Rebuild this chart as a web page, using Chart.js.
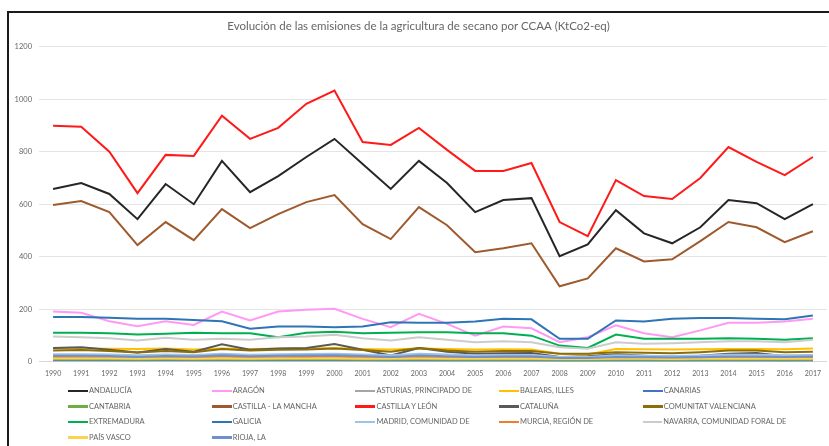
<!DOCTYPE html>
<html lang="es">
<head>
<meta charset="utf-8">
<title>Emisiones de la agricultura de secano por CCAA</title>
<script src="https://cdn.jsdelivr.net/npm/chart.js@4.4.1/dist/chart.umd.min.js"></script>
<style>
  html, body { margin: 0; padding: 0; background: #fff; }
  body { width: 829px; height: 446px; position: relative; overflow: hidden; font-family: Lato, "Open Sans", sans-serif; }
  .frame { position: absolute; left: 7px; top: 11px; right: -10px; bottom: -10px; border-left: 2px solid #1a1a1a; border-top: 2px solid #1a1a1a; }
  .chart-box { position: absolute; left: 0; top: 0; width: 829px; height: 389px; }
  #legend { position: absolute; left: 68px; top: 383px; display: grid; grid-template-columns: repeat(5, 143.7px); grid-auto-rows: 15.6px; }
  .item { display: flex; align-items: center; font-size: 7.5px; color: #666; white-space: nowrap; }
  .item i { display: inline-block; width: 20px; height: 2.5px; margin-right: 1px; }
</style>
</head>
<body>
<div class="frame"></div>
<div class="chart-box"><canvas id="emisionesChart"></canvas></div>
<div id="legend"></div>

<script>
const years = ['1990', '1991', '1992', '1993', '1994', '1995', '1996', '1997', '1998', '1999',
  '2000', '2001', '2002', '2003', '2004', '2005', '2006', '2007', '2008', '2009',
  '2010', '2011', '2012', '2013', '2014', '2015', '2016', '2017'];

// KtCO2-eq por comunidad autónoma
const andalucia = [658, 681, 639, 543, 677, 600, 765, 646, 707, 780, 849, 753, 658, 765, 681, 570, 616, 623, 402, 447, 577, 489, 451, 512, 616, 604, 543, 600];
const aragon = [191, 186, 154, 135, 154, 140, 191, 157, 191, 198, 201, 163, 131, 182, 144, 99, 134, 127, 74, 93, 138, 108, 93, 119, 148, 148, 153, 163];
const asturias = [6, 6, 5, 5, 6, 5, 6, 5, 6, 6, 6, 5, 5, 6, 5, 5, 5, 5, 4, 4, 5, 5, 4, 5, 5, 5, 4, 5];
const baleares = [50, 50, 49, 48, 50, 46, 50, 48, 49, 50, 52, 48, 46, 50, 48, 46, 47, 46, 30, 27, 48, 47, 46, 47, 48, 48, 47, 50];
const canarias = [4, 4, 4, 4, 4, 4, 4, 4, 4, 4, 4, 4, 3, 3, 3, 3, 3, 3, 3, 3, 3, 3, 3, 3, 3, 3, 3, 3];
const cantabria = [8, 8, 8, 7, 8, 7, 8, 7, 8, 8, 8, 7, 7, 8, 7, 7, 7, 7, 6, 6, 7, 7, 6, 7, 7, 7, 7, 7];
const castillaLaMancha = [597, 612, 570, 444, 532, 463, 581, 509, 562, 608, 635, 524, 467, 589, 520, 417, 432, 451, 287, 317, 432, 382, 390, 459, 532, 512, 455, 497];
const castillaLeon = [899, 895, 800, 642, 788, 784, 937, 849, 891, 983, 1033, 837, 826, 891, 807, 727, 727, 757, 532, 478, 692, 631, 620, 700, 818, 761, 711, 780];
const cataluna = [52, 55, 45, 35, 48, 38, 66, 45, 50, 52, 67, 45, 23, 52, 38, 30, 32, 33, 18, 20, 28, 22, 18, 22, 30, 33, 20, 22];
const valenciana = [42, 44, 40, 35, 40, 36, 48, 42, 45, 46, 50, 44, 38, 52, 42, 38, 40, 40, 30, 30, 36, 34, 32, 36, 42, 42, 36, 38];
const extremadura = [110, 110, 108, 103, 106, 110, 108, 108, 93, 110, 114, 108, 110, 112, 112, 108, 108, 99, 61, 52, 103, 87, 87, 87, 89, 87, 83, 89];
const galicia = [170, 170, 167, 163, 163, 159, 154, 125, 134, 134, 131, 134, 150, 148, 148, 153, 163, 161, 87, 87, 157, 153, 163, 166, 166, 163, 161, 176];
const madrid = [28, 28, 27, 24, 27, 25, 30, 26, 28, 29, 30, 27, 24, 30, 27, 24, 25, 25, 18, 18, 24, 22, 21, 23, 26, 26, 24, 25];
const murcia = [18, 17, 16, 14, 17, 15, 19, 16, 17, 18, 19, 16, 14, 18, 16, 14, 15, 15, 11, 12, 15, 14, 13, 14, 16, 16, 15, 15];
const navarra = [96, 93, 89, 80, 91, 83, 87, 83, 93, 96, 102, 89, 80, 93, 83, 74, 78, 74, 55, 49, 74, 68, 70, 74, 78, 78, 74, 83];
const paisVasco = [12, 12, 12, 11, 12, 11, 12, 11, 12, 12, 12, 11, 11, 12, 11, 11, 11, 11, 10, 10, 11, 11, 10, 11, 11, 11, 11, 11];
const rioja = [22, 22, 21, 18, 21, 19, 24, 20, 22, 23, 24, 21, 18, 23, 20, 18, 19, 19, 14, 14, 18, 17, 16, 17, 19, 19, 18, 19];

const yMax = 1200;
const yStep = 200;

const series = [
  ['ANDALUCÍA', andalucia, '#262626'],
  ['ARAGÓN', aragon, '#ff99f5'],
  ['ASTURIAS, PRINCIPADO DE', asturias, '#a5a5a5'],
  ['BALEARS, ILLES', baleares, '#ffc000'],
  ['CANARIAS', canarias, '#4472c4'],
  ['CANTABRIA', cantabria, '#70ad47'],
  ['CASTILLA - LA MANCHA', castillaLaMancha, '#9e5a2c'],
  ['CASTILLA Y LEÓN', castillaLeon, '#ff1a1a'],
  ['CATALUÑA', cataluna, '#595959'],
  ['COMUNITAT VALENCIANA', valenciana, '#8c6d0b'],
  ['EXTREMADURA', extremadura, '#00b050'],
  ['GALICIA', galicia, '#2e75b6'],
  ['MADRID, COMUNIDAD DE', madrid, '#9dc3e6'],
  ['MURCIA, REGIÓN DE', murcia, '#ed7d31'],
  ['NAVARRA, COMUNIDAD FORAL DE', navarra, '#cccccc'],
  ['PAÍS VASCO', paisVasco, '#ffd24d'],
  ['RIOJA, LA', rioja, '#6f8fcf']
];

const FONT = 'Lato, "Open Sans", sans-serif';
const TEXT = '#666';

const ctx = document.getElementById('emisionesChart').getContext('2d');
const chart = new Chart(ctx, {
  type: 'line',
  data: {
    labels: years,
    datasets: series.map(([label, data, color], i) => ({
      label: label,
      data: data,
      borderColor: color,
      backgroundColor: color,
      borderWidth: 2,
      tension: 0,
      pointRadius: 0,
      fill: false,
      order: series.length - i
    }))
  },
  options: {
    responsive: true,
    maintainAspectRatio: false,
    animation: false,
    layout: { padding: { left: 8, right: 0, top: 0, bottom: 3 } },
    plugins: {
      legend: { display: false },
      title: {
        display: true,
        text: 'Evolución de las emisiones de la agricultura de secano por CCAA (KtCo2-eq)',
        color: TEXT,
        font: { family: FONT, size: 11.5, weight: 'normal' },
        padding: { top: 19, bottom: 14 }
      },
      tooltip: { mode: 'index', intersect: false }
    },
    scales: {
      x: {
        offset: true,
        grid: { display: false, drawTicks: false },
        border: { color: '#d9d9d9' },
        ticks: { color: TEXT, font: { family: FONT, size: 7 }, padding: 8, maxRotation: 0, autoSkip: false }
      },
      y: {
        min: 0,
        max: yMax,
        ticks: {
          stepSize: yStep,
          color: TEXT,
          font: { family: FONT, size: 7.5 },
          padding: 7,
          callback: function(value) { return String(value); }
        },
        grid: { color: '#e4e4e4', drawTicks: false },
        border: { display: false },
        afterFit: function(scale) { scale.width = 31; }
      }
    }
  }
});

// Legend in five columns, built from the datasets
const legendEl = document.getElementById('legend');
chart.data.datasets.forEach(ds => {
  const item = document.createElement('div');
  item.className = 'item';
  const swatch = document.createElement('i');
  swatch.style.background = ds.borderColor;
  item.appendChild(swatch);
  item.appendChild(document.createTextNode(ds.label));
  legendEl.appendChild(item);
});
</script>
</body>
</html>
